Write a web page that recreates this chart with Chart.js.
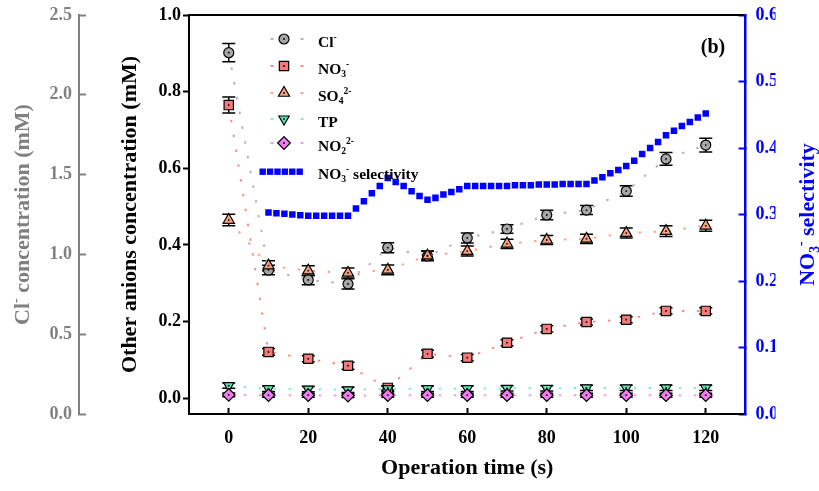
<!DOCTYPE html>
<html>
<head>
<meta charset="utf-8">
<script src="https://cdn.jsdelivr.net/npm/chart.js@4.4.0/dist/chart.umd.min.js"></script>
<style>
  html, body { margin: 0; padding: 0; background: #fff; }
</style>
</head>
<body>
<canvas id="grafico" width="819" height="491"></canvas>
<script>
// Datos
const tiempos = [0, 10, 20, 30, 40, 50, 60, 70, 80, 90, 100, 110, 120];
const cloruro = [2.264, 0.902, 0.840, 0.815, 1.042, 0.990, 1.103, 1.159, 1.247, 1.278, 1.397, 1.598, 1.685];
const nitrato = [0.765, 0.121, 0.103, 0.085, 0.027, 0.116, 0.106, 0.145, 0.181, 0.199, 0.205, 0.228, 0.228];
const sulfato = [0.465, 0.346, 0.333, 0.327, 0.335, 0.372, 0.384, 0.403, 0.413, 0.416, 0.431, 0.436, 0.450];
const fosforo = [0.033, 0.025, 0.024, 0.022, 0.025, 0.025, 0.025, 0.026, 0.026, 0.027, 0.027, 0.027, 0.027];
const nitrito = [0.009, 0.008, 0.008, 0.007, 0.008, 0.008, 0.008, 0.008, 0.008, 0.008, 0.008, 0.008, 0.008];

const errCloruro = [0.057, 0.03, 0.03, 0.032, 0.031, 0.03, 0.031, 0.026, 0.03, 0.028, 0.033, 0.04, 0.043];
const errNitrato = [0.021, 0.009, 0.008, 0.009, 0.006, 0.009, 0.008, 0.008, 0.008, 0.008, 0.008, 0.008, 0.008];
const errSulfato = [0.015, 0.013, 0.013, 0.013, 0.013, 0.012, 0.013, 0.012, 0.012, 0.012, 0.013, 0.014, 0.0145];
const errFosforo = [0.007, 0.007, 0.007, 0.007, 0.007, 0.007, 0.007, 0.007, 0.007, 0.007, 0.007, 0.007, 0.007];
const errNitrito = [0.005, 0.005, 0.005, 0.005, 0.005, 0.005, 0.005, 0.005, 0.005, 0.005, 0.005, 0.005, 0.005];

const tiemposSel = [10, 12, 14, 16, 18, 20, 22, 24, 26, 28, 30, 32, 34, 36, 38, 40, 42, 44, 46, 48,
  50, 52, 54, 56, 58, 60, 62, 64, 66, 68, 70, 72, 74, 76, 78, 80, 82, 84, 86, 88,
  90, 92, 94, 96, 98, 100, 102, 104, 106, 108, 110, 112, 114, 116, 118, 120];
const selectividad = [0.303, 0.302, 0.301, 0.300, 0.299, 0.298, 0.298, 0.298, 0.298, 0.298,
  0.298, 0.309, 0.320, 0.332, 0.343, 0.355, 0.349, 0.343, 0.335, 0.328,
  0.322, 0.325, 0.330, 0.334, 0.338, 0.343, 0.343, 0.343, 0.343, 0.343,
  0.343, 0.344, 0.344, 0.344, 0.345, 0.345, 0.345, 0.346, 0.346, 0.346,
  0.346, 0.351, 0.356, 0.362, 0.367, 0.373, 0.381, 0.391, 0.400, 0.409,
  0.419, 0.426, 0.433, 0.439, 0.446, 0.452];

const ticksX = [0, 20, 40, 60, 80, 100, 120];

const FUENTE = '"Liberation Serif", "Times New Roman", serif';

function puntos(xs, ys) {
  return xs.map((x, i) => ({ x: x, y: ys[i] }));
}

function serie(etiqueta, valores, errores, eje, estilo) {
  return Object.assign({
    label: etiqueta,
    data: puntos(tiempos, valores),
    errores: errores,
    yAxisID: eje,
    borderWidth: 2,
    borderDash: [2.5, 12.5],
    tension: 0,
    pointBorderColor: '#000',
    pointBorderWidth: 1.2,
    centro: true
  }, estilo);
}

// texto con subindices y superindices: partes = [[texto, 'n'|'sub'|'sup'], ...]
function anchoRico(ctx, partes, tam) {
  let w = 0;
  partes.forEach(p => {
    const t = p[1] === 'n' ? tam : tam * 0.62;
    ctx.font = 'bold ' + t + 'px ' + FUENTE;
    w += ctx.measureText(p[0]).width;
  });
  return w;
}

function textoRico(ctx, partes, x, y, tam, color) {
  ctx.fillStyle = color;
  ctx.textBaseline = 'alphabetic';
  ctx.textAlign = 'left';
  let cx = x;
  partes.forEach(p => {
    let t = tam, dy = 0;
    if (p[1] === 'sub') { t = tam * 0.62; dy = tam * 0.22; }
    if (p[1] === 'sup') { t = tam * 0.62; dy = -tam * 0.42; }
    ctx.font = 'bold ' + t + 'px ' + FUENTE;
    ctx.fillText(p[0], cx, y + dy);
    cx += ctx.measureText(p[0]).width;
  });
}

function tituloVertical(ctx, partes, cx, cy, tam, color) {
  ctx.save();
  ctx.translate(cx, cy);
  ctx.rotate(-Math.PI / 2);
  const w = anchoRico(ctx, partes, tam);
  textoRico(ctx, partes, -w / 2, tam * 0.33, tam, color);
  ctx.restore();
}

const barrasError = {
  id: 'barrasError',
  beforeDatasetsDraw(chart) {
    const ctx = chart.ctx;
    ctx.save();
    ctx.strokeStyle = '#000';
    ctx.lineWidth = 1.5;
    chart.data.datasets.forEach((ds, k) => {
      if (!ds.errores) return;
      const escala = chart.scales[ds.yAxisID];
      const meta = chart.getDatasetMeta(k);
      meta.data.forEach((p, i) => {
        const v = ds.data[i].y, e = ds.errores[i];
        const y1 = escala.getPixelForValue(v + e);
        const y2 = escala.getPixelForValue(v - e);
        ctx.beginPath();
        ctx.moveTo(p.x, y1); ctx.lineTo(p.x, y2);
        ctx.moveTo(p.x - 6.5, y1); ctx.lineTo(p.x + 6.5, y1);
        ctx.moveTo(p.x - 6.5, y2); ctx.lineTo(p.x + 6.5, y2);
        ctx.stroke();
      });
    });
    ctx.restore();
  },
  afterDatasetsDraw(chart) {
    const ctx = chart.ctx;
    ctx.save();
    ctx.fillStyle = '#000';
    chart.data.datasets.forEach((ds, k) => {
      if (!ds.centro) return;
      chart.getDatasetMeta(k).data.forEach(p => {
        ctx.beginPath();
        ctx.arc(p.x, p.y, 0.9, 0, Math.PI * 2);
        ctx.fill();
      });
    });
    ctx.restore();
  }
};

const leyendaYTitulos = {
  id: 'leyendaYTitulos',
  afterDraw(chart) {
    const ctx = chart.ctx;
    const filas = [39, 66, 93, 119, 143];
    const textos = [
      [['Cl', 'n'], ['-', 'sup']],
      [['NO', 'n'], ['3', 'sub'], ['-', 'sup']],
      [['SO', 'n'], ['4', 'sub'], ['2-', 'sup']],
      [['TP', 'n']],
      [['NO', 'n'], ['2', 'sub'], ['2-', 'sup']]
    ];
    ctx.save();
    for (let i = 0; i < 5; i++) {
      const ds = chart.data.datasets[i];
      const y = filas[i];
      ctx.strokeStyle = ds.borderColor;
      ctx.lineWidth = 2;
      ctx.beginPath();
      ctx.moveTo(270.5, y); ctx.lineTo(273.5, y);
      ctx.moveTo(300.5, y); ctx.lineTo(303.5, y);
      ctx.stroke();
      ctx.fillStyle = ds.pointBackgroundColor;
      ctx.strokeStyle = '#000';
      ctx.lineWidth = 1.2;
      Chart.helpers.drawPoint(ctx, {
        pointStyle: ds.pointStyle, radius: ds.pointRadius,
        rotation: ds.pointRotation || 0, borderWidth: 1.2
      }, 284, y);
      ctx.fillStyle = '#000';
      ctx.beginPath(); ctx.arc(284, y, 0.9, 0, Math.PI * 2); ctx.fill();
      textoRico(ctx, textos[i], 318, y + 8, 15.5, '#000');
    }
    // selectividad
    const sel = chart.data.datasets[5];
    ctx.fillStyle = sel.pointBackgroundColor;
    for (let j = 0; j < 6; j++) {
      ctx.fillRect(259.5 + j * 7.4, 168.5, 6.4, 6.4);
    }
    textoRico(ctx, [['NO', 'n'], ['3', 'sub'], ['-', 'sup'], [' selectivity', 'n']], 318, 179, 15.5, '#000');

    // etiqueta del panel
    ctx.font = 'bold 20px ' + FUENTE;
    ctx.fillStyle = '#000';
    ctx.textAlign = 'center';
    ctx.textBaseline = 'middle';
    ctx.fillText('(b)', 713, 48);

    // titulos de ejes con sub/superindices
    const a = chart.chartArea;
    const cy = (a.top + a.bottom) / 2;
    tituloVertical(ctx, [['Cl', 'n'], ['-', 'sup'], [' concentration (mM)', 'n']], 22, cy, 22, '#808080');
    tituloVertical(ctx, [['NO', 'n'], ['3', 'sub'], ['-', 'sup'], [' selectivity', 'n']], 807, cy, 22, '#0000ff');
    ctx.restore();
  }
};

const fuenteTicks = { family: FUENTE, size: 18, weight: 'bold' };
const unDecimal = v => v.toFixed(1);

// fija el tamaño de cada eje y anula el relleno extra de las etiquetas
function ancho(w) {
  return s => { s.width = w; s.paddingTop = 0; s.paddingBottom = 0; };
}
function alto(h) {
  return s => { s.height = h; s.paddingLeft = 0; s.paddingRight = 0; };
}

new Chart(document.getElementById('grafico'), {
  type: 'line',
  data: {
    datasets: [
      serie('Cl-', cloruro, errCloruro, 'yCl', {
        borderColor: '#b4b4b4', pointStyle: 'circle', pointRadius: 5,
        pointBackgroundColor: '#a6a6a6', order: 6
      }),
      serie('NO3-', nitrato, errNitrato, 'y', {
        borderColor: '#f58f8f', pointStyle: 'rect', pointRadius: 6.6,
        pointBackgroundColor: '#f47a7a', order: 5
      }),
      serie('SO42-', sulfato, errSulfato, 'y', {
        borderColor: '#f8a585', pointStyle: 'triangle', pointRadius: 6.5,
        pointBackgroundColor: '#f5a07c', order: 4
      }),
      serie('TP', fosforo, errFosforo, 'y', {
        borderColor: '#7ff0cc', pointStyle: 'triangle', pointRotation: 180, pointRadius: 6,
        pointBackgroundColor: '#5fe3b6', order: 3
      }),
      serie('NO22-', nitrito, errNitrito, 'y', {
        borderColor: '#f29af2', pointStyle: 'rectRot', pointRadius: 6.3,
        pointBackgroundColor: '#f07cf0', order: 2
      }),
      {
        label: 'NO3- selectivity',
        data: puntos(tiemposSel, selectividad),
        yAxisID: 'ySel',
        showLine: false,
        pointStyle: 'rect',
        pointRadius: 4.6,
        pointBackgroundColor: '#0000ff',
        pointBorderColor: '#0000ff',
        pointBorderWidth: 0,
        order: 1
      }
    ]
  },
  options: {
    responsive: false,
    animation: false,
    events: [],
    layout: { padding: { left: 0, right: 43.5, top: 0, bottom: 0 } },
    plugins: { legend: { display: false }, tooltip: { enabled: false } },
    scales: {
      x: {
        type: 'linear', position: 'bottom', min: -10, max: 130,
        afterBuildTicks: s => { s.ticks = ticksX.map(v => ({ value: v })); },
        ticks: { color: '#000', font: fuenteTicks, padding: 20, maxRotation: 0 },
        grid: { drawOnChartArea: false, tickLength: -6, tickWidth: 2, tickColor: '#000' },
        border: { color: '#000', width: 2 },
        title: {
          display: true, text: 'Operation time (s)', color: '#000',
          font: { family: FUENTE, size: 22, weight: 'bold' }, padding: { top: 0, bottom: 9 }
        },
        afterFit: alto(77)
      },
      xArriba: {
        type: 'linear', position: 'top', min: -10, max: 130,
        ticks: { display: false },
        grid: { drawOnChartArea: false, drawTicks: false },
        border: { color: '#000', width: 2 },
        afterFit: alto(15)
      },
      y: {
        type: 'linear', position: 'left', weight: 0, min: -0.041, max: 1.0,
        ticks: { stepSize: 0.2, includeBounds: false, callback: unDecimal, color: '#000', font: fuenteTicks, padding: 2 },
        grid: { drawOnChartArea: false, tickLength: 6, tickWidth: 2, tickColor: '#000' },
        border: { color: '#000', width: 2 },
        title: {
          display: true, text: 'Other anions concentration (mM)', color: '#000',
          font: { family: FUENTE, size: 22, weight: 'bold' }, padding: { top: 38, bottom: 0 }
        },
        afterFit: ancho(110)
      },
      yCl: {
        type: 'linear', position: 'left', weight: 1, min: 0, max: 2.5,
        ticks: { stepSize: 0.5, callback: unDecimal, color: '#808080', font: fuenteTicks, padding: 14 },
        grid: { drawOnChartArea: false, tickLength: -7, tickWidth: 2, tickColor: '#808080' },
        border: { color: '#808080', width: 2 },
        afterFit: ancho(79)
      },
      ySel: {
        type: 'linear', position: 'right', min: 0, max: 0.6,
        ticks: { stepSize: 0.1, callback: unDecimal, color: '#0000ff', font: fuenteTicks, padding: 17 },
        grid: { drawOnChartArea: false, tickLength: -7, tickWidth: 2, tickColor: '#0000ff' },
        border: { color: '#0000ff', width: 2.5 },
        afterFit: ancho(30)
      }
    }
  },
  plugins: [barrasError, leyendaYTitulos]
});
</script>
</body>
</html>
